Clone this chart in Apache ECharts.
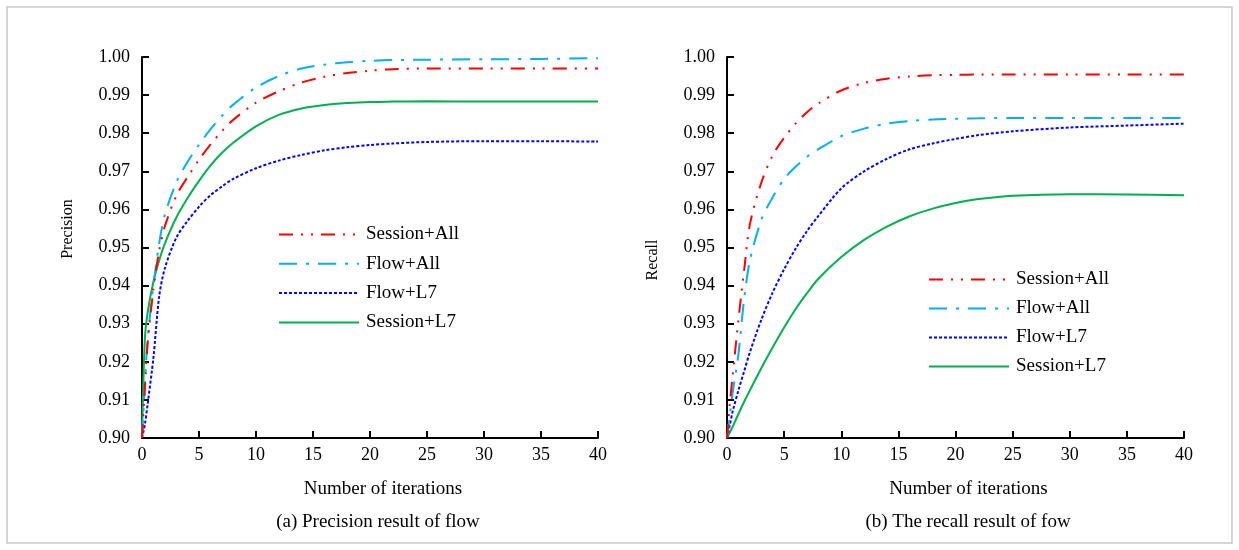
<!DOCTYPE html>
<html>
<head>
<meta charset="utf-8">
<script src="https://cdn.jsdelivr.net/npm/echarts@6/dist/echarts.min.js"></script>
<style>
html,body{margin:0;padding:0;background:#fff;}
#c{width:1239px;height:550px;}
</style>
</head>
<body>
<div id="c"></div>
<script>
// ---- data ----
const iterations = [0, 0.25, 0.5, 1, 1.5, 2, 3, 4, 5, 6, 7, 8, 10, 12, 14, 16, 18, 20, 22, 25, 30, 35, 40];
const seriesNames = ['Session+All', 'Flow+All', 'Flow+L7', 'Session+L7'];

// (a) Precision
const precSessionAll = [0.900, 0.913, 0.925, 0.939, 0.949, 0.9555, 0.9635, 0.9685, 0.973, 0.977, 0.9805, 0.9835, 0.988, 0.991, 0.9933, 0.9948, 0.9958, 0.9964, 0.9968, 0.997, 0.997, 0.997, 0.997];
const precFlowAll    = [0.900, 0.914, 0.926, 0.940, 0.951, 0.9585, 0.967, 0.9725, 0.977, 0.981, 0.9845, 0.9875, 0.992, 0.995, 0.997, 0.998, 0.9986, 0.999, 0.9992, 0.9993, 0.9994, 0.9995, 0.9997];
const precFlowL7     = [0.900, 0.9035, 0.909, 0.921, 0.937, 0.9445, 0.9525, 0.957, 0.9607, 0.9637, 0.966, 0.968, 0.9708, 0.9728, 0.9743, 0.9755, 0.9763, 0.9769, 0.9773, 0.9777, 0.9779, 0.9779, 0.9778];
const precSessionL7  = [0.900, 0.926, 0.933, 0.941, 0.9465, 0.951, 0.9578, 0.963, 0.9675, 0.9715, 0.9748, 0.9775, 0.9818, 0.9848, 0.9865, 0.9874, 0.9879, 0.9882, 0.9883, 0.9884, 0.9883, 0.9883, 0.9883];

// (b) Recall
const recSessionAll = [0.900, 0.909, 0.9165, 0.931, 0.944, 0.956, 0.967, 0.9742, 0.9788, 0.9825, 0.9855, 0.9878, 0.9912, 0.9932, 0.9943, 0.9949, 0.9952, 0.9953, 0.9954, 0.9954, 0.9954, 0.9954, 0.9954];
const recFlowAll    = [0.900, 0.906, 0.912, 0.922, 0.9365, 0.9465, 0.9572, 0.9632, 0.968, 0.9712, 0.9738, 0.9758, 0.9792, 0.9812, 0.9825, 0.9832, 0.9836, 0.9838, 0.9839, 0.984, 0.984, 0.984, 0.984];
const recFlowL7     = [0.900, 0.9035, 0.907, 0.9125, 0.9175, 0.9225, 0.931, 0.9382, 0.9443, 0.9497, 0.9543, 0.9583, 0.9655, 0.970, 0.9733, 0.9758, 0.9773, 0.9785, 0.9795, 0.9805, 0.9815, 0.982, 0.9825];
const recSessionL7  = [0.900, 0.9015, 0.903, 0.9063, 0.9095, 0.9125, 0.9183, 0.9238, 0.929, 0.9338, 0.938, 0.9418, 0.9475, 0.952, 0.9555, 0.9582, 0.9602, 0.9617, 0.9627, 0.9636, 0.964, 0.9639, 0.9637];

const yLabel = ['Precision', 'Recall'];
const xLabel = 'Number of iterations';
const captions = ['(a) Precision result of flow', '(b) The recall result of fow'];

// ---- styles ----
const FONT = '"Liberation Serif", "Times New Roman", serif';
const styles = [
  {color: '#FF0000', type: [14, 8, 2, 8, 2, 8]},
  {color: '#00B0F0', type: [18, 9, 3, 9]},
  {color: '#0000FF', type: [3, 2]},
  {color: '#00B050', type: 'solid'}
];

function pairs(ys) { return iterations.map((x, i) => [x, ys[i]]); }

const grids = [
  {left: 142, top: 57, width: 456, height: 381},
  {left: 727, top: 57, width: 457, height: 381}
];

function xAxisFor(gi) {
  return {
    gridIndex: gi, type: 'value', min: 0, max: 40, interval: 5,
    name: xLabel, nameLocation: 'middle', nameGap: 42,
    nameTextStyle: {fontFamily: FONT, fontSize: 19, color: '#000', padding: [0, 0, 0, 26]},
    axisLine: {lineStyle: {color: '#000', width: 2}},
    axisTick: {inside: true, length: 7, lineStyle: {color: '#000', width: 2}},
    axisLabel: {fontFamily: FONT, fontSize: 18, color: '#000', margin: 8},
    splitLine: {show: false}
  };
}
const yNamePad = [[0, 0, 0, 37], [0, 25, 0, 0]];
function yAxisFor(gi) {
  return {
    gridIndex: gi, type: 'value', min: 0.90, max: 1.00, interval: 0.01,
    name: yLabel[gi], nameLocation: 'middle', nameGap: 66, nameRotate: 90,
    nameTextStyle: {fontFamily: FONT, fontSize: 16, color: '#000', padding: yNamePad[gi]},
    axisLine: {lineStyle: {color: '#000', width: 2}},
    axisTick: {inside: true, length: 7, lineStyle: {color: '#000', width: 2}},
    axisLabel: {fontFamily: FONT, fontSize: 18, color: '#000', margin: 12, formatter: v => v.toFixed(2)},
    splitLine: {show: false}
  };
}

const panelData = [
  [precSessionAll, precFlowAll, precFlowL7, precSessionL7],
  [recSessionAll, recFlowAll, recFlowL7, recSessionL7]
];

const series = [];
panelData.forEach((arrs, gi) => {
  arrs.forEach((ys, si) => {
    series.push({
      type: 'line', name: seriesNames[si], xAxisIndex: gi, yAxisIndex: gi,
      data: pairs(ys), smooth: 0.3, showSymbol: false, symbol: 'none',
      lineStyle: {color: styles[si].color, width: 2, type: styles[si].type},
      itemStyle: {color: styles[si].color},
      animation: false, z: 10 - si
    });
  });
});

function legendFor(left, top, gap) {
  return {
    data: seriesNames, orient: 'vertical', left: left, top: top, padding: 0,
    itemWidth: 80, itemHeight: 14, itemGap: gap,
    itemStyle: {opacity: 0},
    textStyle: {fontFamily: FONT, fontSize: 19, color: '#000', padding: [0, 0, 0, 2]},
    selectedMode: false
  };
}

const chart = echarts.init(document.getElementById('c'), null, {renderer: 'canvas'});
chart.setOption({
  animation: false,
  backgroundColor: '#fff',
  grid: grids,
  xAxis: [xAxisFor(0), xAxisFor(1)],
  yAxis: [yAxisFor(0), yAxisFor(1)],
  legend: [legendFor(278, 225, 10.3), legendFor(928, 270, 10)],
  title: [
    {text: captions[0], left: 378, top: 513, textAlign: 'center', padding: 0,
     textStyle: {fontFamily: FONT, fontSize: 19, fontWeight: 'normal', color: '#000'}},
    {text: captions[1], left: 968, top: 513, textAlign: 'center', padding: 0,
     textStyle: {fontFamily: FONT, fontSize: 19, fontWeight: 'normal', color: '#000'}}
  ],
  graphic: [
    {type: 'rect', shape: {x: 7, y: 7, width: 1225, height: 536}, style: {fill: 'none', stroke: '#C8C8C8', lineWidth: 1.5}, silent: true}
  ],
  series: series
});
</script>
</body>
</html>
